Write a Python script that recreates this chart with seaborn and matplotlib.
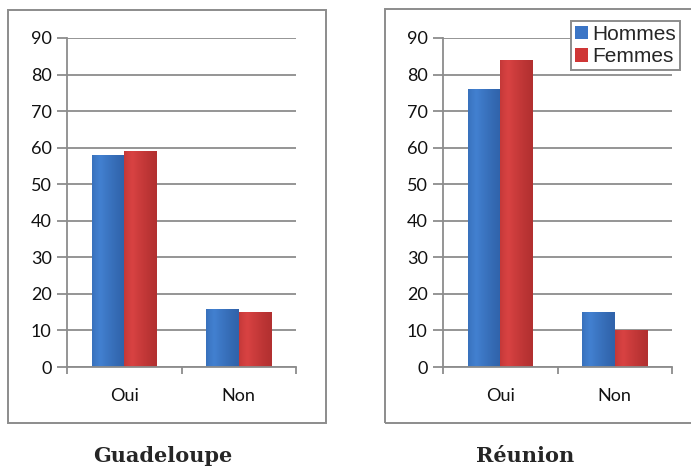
import matplotlib
matplotlib.use("Agg")
import matplotlib.pyplot as plt
import seaborn as sns
import pandas as pd
import numpy as np
from matplotlib.patches import Rectangle
from matplotlib.ticker import FixedLocator
from matplotlib.colors import LinearSegmentedColormap

sns.set_style("white")
plt.rcParams['font.family'] = ['Lato', 'DejaVu Sans']

categories = ["Oui", "Non"]
series = ["Hommes", "Femmes"]
guadeloupe_hommes = [58, 16]
guadeloupe_femmes = [59, 15]
reunion_hommes = [76, 15]
reunion_femmes = [84, 10]
titles = ["Guadeloupe", "Réunion"]
yticks = [0, 10, 20, 30, 40, 50, 60, 70, 80, 90]

colors = {"Hommes": "#3b75c6", "Femmes": "#cf3636"}
shades = {"#3b75c6": ("#3063aa", "#4280d0"), "#cf3636": ("#b23030", "#d84242")}
grey = "#8c8c8c"

W, H = 691, 471
fig = plt.figure(figsize=(W / 100, H / 100), dpi=100)

def fx(px):
    return px / W

def fy(py):
    return 1 - py / H

def make_df(h, f):
    rows = []
    for c, v in zip(categories, h):
        rows.append({"cat": c, "sexe": "Hommes", "val": v})
    for c, v in zip(categories, f):
        rows.append({"cat": c, "sexe": "Femmes", "val": v})
    return pd.DataFrame(rows)

panels = [
    (make_df(guadeloupe_hommes, guadeloupe_femmes), 67, (8, 10, 326, 423), 163),
    (make_df(reunion_hommes, reunion_femmes), 443, (385, 9, 697, 423), 525),
]

grad = np.concatenate([np.linspace(0.2, 1, 25) ** 0.5, np.linspace(1, 0, 75) ** 1.2])[None, :]

for i, (df, x0, box, tx) in enumerate(panels):
    bx0, by0, bx1, by1 = box
    fig.patches.append(Rectangle((fx(bx0), fy(by1)), fx(bx1 - bx0), (by1 - by0) / H,
                                 transform=fig.transFigure, fill=False,
                                 edgecolor=grey, linewidth=1.4, zorder=0))
    ax = fig.add_axes([fx(x0), fy(367), fx(229), 329 / H])
    sns.barplot(data=df, x="cat", y="val", hue="sexe", order=categories,
                hue_order=series, palette=colors, width=0.57, ax=ax,
                saturation=1, legend=False, zorder=3, edgecolor="none")
    ax.set_xlim(-0.5, 1.5)
    ax.set_ylim(0, 90)
    for p in list(ax.patches):
        fc = matplotlib.colors.to_hex(p.get_facecolor())
        if fc not in shades:
            continue
        dark, light = shades[fc]
        cmap = LinearSegmentedColormap.from_list("g", [dark, light])
        x, y = p.get_x(), p.get_y()
        w, h = p.get_width(), p.get_height()
        im = ax.imshow(grad, cmap=cmap, extent=(x, x + w, y, y + h),
                       aspect="auto", zorder=3.5, interpolation="bicubic")
        im.set_clip_path(p)
    ax.set_xlim(-0.5, 1.5)
    ax.set_ylim(0, 90)
    ax.set_yticks(yticks)
    ax.set_xlabel("")
    ax.set_ylabel("")
    ax.grid(axis="y", color=grey, linewidth=1.3, zorder=0)
    ax.set_axisbelow(True)
    for s in ["top", "right"]:
        ax.spines[s].set_visible(False)
    for s in ["left", "bottom"]:
        ax.spines[s].set_color(grey)
        ax.spines[s].set_linewidth(1.3)
        ax.spines[s].set_zorder(5)
    ax.tick_params(axis="y", length=7, width=1.3, color=grey, labelsize=13,
                   labelcolor="#111111", pad=4, left=True)
    ax.tick_params(axis="x", which="major", length=0, labelsize=13,
                   labelcolor="#111111", pad=15)
    ax.xaxis.set_minor_locator(FixedLocator([-0.5, 0.5, 1.5]))
    ax.tick_params(axis="x", which="minor", length=5, width=1.3, color=grey,
                   bottom=True)
    fig.text(fx(tx), fy(456), titles[i], ha="center", va="center",
             family="DejaVu Serif", fontweight="bold", fontsize=15)

handles = [Rectangle((0, 0), 1, 1, facecolor=colors[s], edgecolor="none") for s in series]
leg = fig.legend(handles, series, loc="upper left",
                 bbox_to_anchor=(fx(571), fy(21)), bbox_transform=fig.transFigure,
                 frameon=True, fancybox=False, framealpha=1, borderpad=0.2,
                 handlelength=0.6, handleheight=0.6, handletextpad=0.2,
                 labelspacing=0.15, borderaxespad=0,
                 prop={"family": "Liberation Sans", "size": 15})
leg.get_frame().set_edgecolor(grey)
leg.get_frame().set_linewidth(1.4)

fig.savefig("out.png", dpi=100)
